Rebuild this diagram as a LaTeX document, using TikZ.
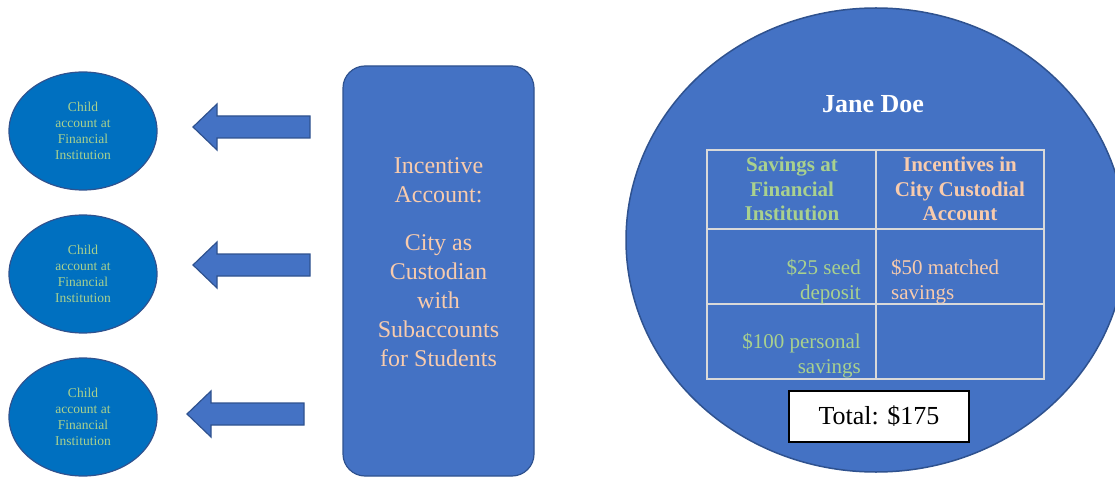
\documentclass[tikz,border=0pt]{standalone}
\usepackage{fontspec}
\setmainfont{Liberation Serif}
\usetikzlibrary{shapes.geometric}

\begin{document}
\begin{tikzpicture}[x=1pt,y=-1pt]
  \definecolor{officeblue}{HTML}{4472C4}
  \definecolor{darkblue}{HTML}{2F528F}
  \definecolor{childblue}{HTML}{0070C0}
  \definecolor{lightgreen}{HTML}{A9D18E}
  \definecolor{peach}{HTML}{F8CBAD}
  \definecolor{gridgray}{HTML}{D9D9D9}
  \tikzset{
    leftarrow/.pic ={
      \draw[pic actions,line width=1.2pt]
        (0,0) -- (24,-23) -- (24,-11) -- (#1,-11) -- (#1,11) -- (24,11) -- (24,23) -- cycle;
    },
    childacc/.style={ellipse,draw=darkblue,line width=1.2pt,fill=childblue,minimum width=148pt,minimum height=118pt,
      inner sep=0pt,align=center,text=lightgreen,font=\fontsize{13.5}{16}\selectfont},
    head/.style={inner sep=0pt,align=center,font=\fontsize{21}{24.5}\selectfont\bfseries},
    cell/.style={inner sep=0pt,font=\fontsize{21}{25}\selectfont},
  }
  \useasboundingbox (0,0) rectangle (1115,478);
  \foreach \y/\n in {131/1, 274/2, 417/3} {
    \node[childacc] (child\n) at (83,\y) {Child\\account at\\Financial\\Institution};
  }
  \foreach \x/\y in {193/127, 193/265, 187/414} {
    \draw (\x,\y) pic[fill=officeblue,draw=darkblue] {leftarrow={117}};
  }
  \node[draw=darkblue,line width=1.2pt,fill=officeblue,rounded corners=22pt,minimum width=191pt,minimum height=410pt] (custodian) at (438.5,271) {};
  \node[text=peach,align=center,font=\fontsize{24}{29}\selectfont] (custtext) at ([yshift=9pt]custodian.center)
    {Incentive\\Account:\\[19pt]City as\\Custodian\\with\\Subaccounts\\for Students};
  \node[ellipse,draw=darkblue,line width=1.5pt,fill=officeblue,minimum width=500pt,minimum height=464pt,inner sep=0pt] (jane) at (876,240) {};
  \node[text=white,font=\fontsize{26}{30}\selectfont\bfseries,anchor=base] (name) at (873,113) {Jane Doe};
  \draw[gridgray,line width=1.5pt] (707,150) rectangle (1044,379)
    (876,150) -- (876,379) (707,229) -- (1044,229) (707,304) -- (1044,304);
  \node[head,text=lightgreen] (savehead) at (792,189) {Savings at\\Financial\\Institution};
  \node[head,text=peach] (incenthead) at (960,189) {Incentives in\\City Custodial\\Account};
  \node[cell,text=lightgreen,align=right,anchor=base east] (seed) at (861,299) {\$25 seed\\deposit};
  \node[cell,text=peach,align=left,anchor=base west] (matched) at (891,299) {\$50 matched\\savings};
  \node[cell,text=lightgreen,align=right,anchor=base east] (personal) at (861,373) {\$100 personal\\savings};
  \node[draw=black,line width=1.2pt,fill=white,minimum width=180pt,minimum height=51pt,
    font=\fontsize{26}{30}\selectfont] (total) at (879,416.5) {Total: \$175};
\end{tikzpicture}
\end{document}
